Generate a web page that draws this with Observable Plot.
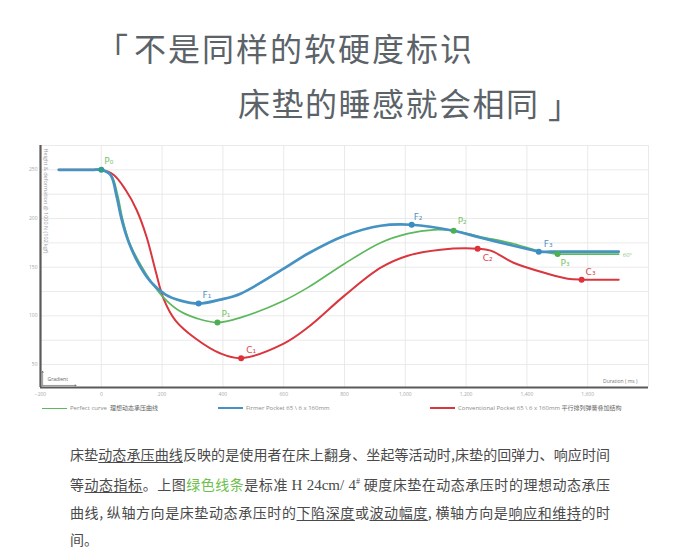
<!DOCTYPE html>
<html><head><meta charset="utf-8">
<script src="https://cdn.jsdelivr.net/npm/d3@7"></script>
<script src="https://cdn.jsdelivr.net/npm/@observablehq/plot@0.6"></script>
<style>
body{margin:0;background:#fff;width:681px;height:551px;overflow:hidden;position:relative;font-family:"Noto Sans CJK SC","Noto Sans",sans-serif;}
.t{position:absolute;color:#5b6369;font-size:32px;line-height:1;white-space:nowrap;}
#chart{position:absolute;left:0;top:135px;}
.lg{position:absolute;top:403px;font-size:6px;color:#8a8a8a;white-space:nowrap;line-height:10px;font-family:"Open Sans","Noto Sans CJK SC",sans-serif;}
.lg i{display:inline-block;width:25px;vertical-align:middle;margin-right:3px;}
.lg b{font-weight:400;color:#666;font-family:"Noto Sans CJK SC",sans-serif;}
#para{position:absolute;left:70px;top:441px;width:540px;font-size:14px;color:#4a4a4a;line-height:27px;}
#para div{white-space:nowrap;text-align:justify;text-align-last:justify;}
#para div.last{text-align-last:left;}
#para u{text-decoration:underline;text-underline-offset:2px;text-decoration-thickness:1px;}
#para .g{color:#6cc04a;}
#para .s{font-family:"Liberation Serif",serif;font-size:15px;}
#para sup{font-size:8px;}
</style></head>
<body>
<div class="t" style="left:96px;top:31px;">「</div>
<div class="t" style="left:134px;top:31px;letter-spacing:2px;">不是同样的软硬度标识</div>
<div class="t" style="left:238px;top:86px;letter-spacing:1.5px;">床垫的睡感就会相同</div>
<div class="t" style="left:548px;top:88px;">」</div>
<div id="chart"></div>
<div class="lg" style="left:42px;"><i style="border-top:1.8px solid #5cb85c"></i>Perfect curve&nbsp; <b>理想动态承压曲线</b></div>
<div class="lg" style="left:218px;"><i style="border-top:2.8px solid #4592c3"></i>Firmer Pocket 65 \ 6 x 160mm</div>
<div class="lg" style="left:430px;"><i style="border-top:2.2px solid #d9363e"></i>Conventional Pocket 65 \ 6 x 160mm <b>平行排列弹簧叠加结构</b></div>
<div id="para">
<div>床垫<u>动态承压曲线</u>反映的是使用者在床上翻身、坐起等活动时,床垫的回弹力、响应时间</div>
<div>等<u>动态指标</u>。上图<span class="g">绿色线条</span>是标准 <span class="s">H 24cm/ 4<sup>#</sup></span> 硬度床垫在动态承压时的理想动态承压</div>
<div>曲线, 纵轴方向是床垫动态承压时的<u>下陷深度</u>或<u>波动幅度</u>, 横轴方向是<u>响应和维持</u>的时</div>
<div class="last">间。</div>
</div>
<script>
// ---- data ----
const xTicks = [-200, 0, 200, 400, 600, 800, 1000, 1200, 1400, 1600];
const yTicks = [50, 100, 150, 200, 250];
const xGrid = [0, 200, 400, 600, 800, 1000, 1200, 1400, 1600, 1800];
const yGrid = [50, 75, 100, 125, 150, 175, 200, 225, 250, 275];

const perfectX = [-140, -30, 0, 33.6, 53.4, 69.8, 92.9, 129.1, 168.5, 211.3, 260.7, 316.6, 382, 458, 600, 679, 800, 919, 1008, 1093, 1159, 1248, 1356, 1439, 1501, 1540, 1702];
const perfectY = [250, 250, 250, 243.8, 224.4, 199.7, 175.1, 152.6, 133.1, 116.7, 104.4, 97.2, 93.1, 98.2, 115.6, 129, 153.6, 175.1, 184.4, 188.4, 187.4, 181.3, 174.1, 166.9, 163.5, 163.5, 163.5];

const firmerX = [-140, -30, 0, 30.3, 50.1, 66.5, 89.6, 122.5, 162, 211.3, 260.7, 320, 392, 458, 600, 679, 800, 919, 1021, 1159, 1248, 1356, 1412, 1439, 1480, 1702];
const firmerY = [250, 250, 250, 244.9, 223.3, 199.7, 176.2, 153.6, 135.1, 121.8, 115.6, 112.6, 116.7, 122.8, 148.5, 163.8, 182.3, 192.6, 193.6, 187.4, 180.3, 172, 167.9, 165.9, 165.9, 165.9];

const convX = [-140, -30, 0, 40.2, 79.7, 115.9, 148.8, 178.4, 204.7, 244.2, 310, 392.3, 460, 600, 679, 800, 919, 1008, 1116, 1238, 1281, 1356, 1468, 1534, 1580, 1620, 1702];
const convY = [250, 250, 250, 244.9, 229.5, 209, 181.3, 146.4, 117.7, 95.1, 76.7, 61.3, 56.5, 71.5, 88, 120.8, 149.5, 161.8, 168, 169, 167, 154.6, 143.3, 138.2, 137.2, 137.2, 137.2];

const markerLabels = ["P₀", "F₁", "P₁", "C₁", "F₂", "P₂", "C₂", "F₃", "P₃", "C₃"];
const markerSeries = ["P0", "Firmer Pocket", "Perfect curve", "Conventional Pocket", "Firmer Pocket", "Perfect curve", "Conventional Pocket", "Firmer Pocket", "Perfect curve", "Conventional Pocket"];
const markerX = [0, 320, 382, 460, 1021, 1159, 1238, 1439, 1501, 1580];
const markerY = [250, 112.6, 93.1, 56.5, 193.6, 187.4, 169, 165.9, 163.5, 137.2];

const endLabel = "60°";
const yTitle = "Height & deformation @ 1000 N (102 kgf)";
const xTitle = "Duration ( ms )";
const gradientLabel = "Gradient";
const gradientArrows = [
  {x1: -193, y1: 28.5, x2: -83, y2: 28.5},
  {x1: -193, y1: 28.5, x2: -193, y2: 43}
];

// ---- styles ----
const lineColor = {"Perfect curve": "#5cb85c", "Firmer Pocket": "#4592c3", "Conventional Pocket": "#d9363e"};
const dotColor = {"Perfect curve": "#4caf50", "Firmer Pocket": "#3a8cc2", "Conventional Pocket": "#e0303a", "P0": "#2f9e8c"};
const labelColor = {"Perfect curve": "#78c46a", "Firmer Pocket": "#4f93c2", "Conventional Pocket": "#d9494e", "P0": "#78c46a"};
const lineWidth = {"Perfect curve": 1.7, "Firmer Pocket": 2.7, "Conventional Pocket": 2};
const labelDx = [3, 4, 4, 5, 2, 4, 5, 5, 3, 4];
const labelDy = [-9, -8, -8, -8, -8, -10, 9, -8, 9, -8];

const toRows = (name, xs, ys) => xs.map((x, i) => ({series: name, x, y: ys[i]}));
const rows = {
  "Perfect curve": toRows("Perfect curve", perfectX, perfectY),
  "Firmer Pocket": toRows("Firmer Pocket", firmerX, firmerY),
  "Conventional Pocket": toRows("Conventional Pocket", convX, convY)
};
const markers = markerLabels.map((t, i) => ({label: t, series: markerSeries[i], x: markerX[i], y: markerY[i]}));
const yMin = 26.4;
const drawOrder = ["Conventional Pocket", "Perfect curve", "Firmer Pocket"];

const chart = Plot.plot({
  width: 681, height: 290,
  marginLeft: 40, marginRight: 33, marginTop: 10, marginBottom: 38,
  x: {domain: [-200, 1800]},
  y: {domain: [yMin, 275]},
  style: {background: "transparent", fontFamily: "'Open Sans', sans-serif"},
  marks: [
    Plot.ruleX(xGrid, {stroke: "#e4e4e4", strokeWidth: 0.8}),
    Plot.ruleY(yGrid, {stroke: "#e4e4e4", strokeWidth: 0.8}),
    Plot.axisX({ticks: xTicks, tickSize: 0, tickPadding: 5, fontSize: 5, fill: "#a8a8a8", tickFormat: d3.format(","), label: null}),
    Plot.axisY({ticks: yTicks, tickSize: 0, tickPadding: 3, fontSize: 5, fill: "#a8a8a8", label: null}),
    Plot.ruleX([-200], {stroke: "#5a5a5a", strokeWidth: 2.2}),
    Plot.ruleY([yMin], {stroke: "#5a5a5a", strokeWidth: 2.2}),
    Plot.text([yTitle], {frameAnchor: "top-left", dx: 7, dy: 3, rotate: 90, textAnchor: "start", fontSize: 5.5, fill: "#9a9a9a"}),
    Plot.text([gradientLabel], {frameAnchor: "bottom-left", dx: 7, dy: -7, textAnchor: "start", fontSize: 5, fill: "#666"}),
    Plot.arrow(gradientArrows, {x1: "x1", y1: "y1", x2: "x2", y2: "y2", stroke: "#555", strokeWidth: 0.6, headLength: 3}),
    Plot.text([xTitle], {frameAnchor: "bottom-right", dx: -11, dy: -5, textAnchor: "end", fontSize: 5, fill: "#777"}),
    ...drawOrder.map(s => Plot.line(rows[s], {x: "x", y: "y", stroke: lineColor[s], strokeWidth: lineWidth[s], curve: "catmull-rom"})),
    Plot.dot(markers, {x: "x", y: "y", r: 3, fill: d => dotColor[d.series]}),
    ...markers.map((m, i) => Plot.text([m], {x: "x", y: "y", text: "label", dx: labelDx[i], dy: labelDy[i], textAnchor: "start", fontSize: 9, fill: labelColor[m.series], fontFamily: "'DejaVu Sans', sans-serif"})),
    Plot.text([{x: perfectX[perfectX.length - 1], y: perfectY[perfectY.length - 1], t: endLabel}], {x: "x", y: "y", text: "t", dx: 4, dy: 1, textAnchor: "start", fontSize: 6, fill: "#8bc97a"})
  ]
});
document.getElementById("chart").appendChild(chart);
</script>
</body></html>
